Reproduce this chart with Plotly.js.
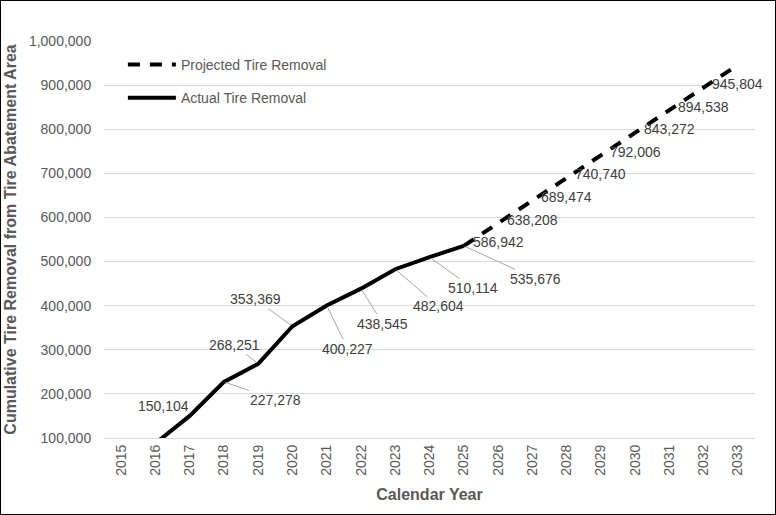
<!DOCTYPE html>
<html>
<head>
<meta charset="utf-8">
<script src="https://cdn.plot.ly/plotly-3.0.1.min.js"></script>
<style>
  body { margin: 0; background: #fff; }
  #chart { width: 776px; height: 515px; }
  #frame { position: absolute; left: 0; top: 0; width: 776px; height: 515px; box-sizing: border-box; border: 1px solid #000; pointer-events: none; }
</style>
</head>
<body>
<div id="chart"></div>
<div id="frame"></div>
<script>
const years = ['2015','2016','2017','2018','2019','2020','2021','2022','2023','2024','2025','2026','2027','2028','2029','2030','2031','2032','2033'];

const actualYears = ['2016','2017','2018','2019','2020','2021','2022','2023','2024','2025'];
const actualValues = [88000, 150104, 227278, 268251, 353369, 400227, 438545, 482604, 510114, 535676];

const projectedYears = ['2025','2026','2027','2028','2029','2030','2031','2032','2033'];
const projectedValues = [535676, 586942, 638208, 689474, 740740, 792006, 843272, 894538, 945804];

// label offsets (px) for the actual series, 2017..2025: [dx, dy, leader line]
const actualLabelOffsets = [
  [-26, -10, false], [52, 18, true], [-24, -19, true], [-37, -27, true],
  [21, 43, true], [22, 35, true], [43, 37, true], [43, 31, true], [72, 33, true]
];

const fmt = v => v.toLocaleString('en-US');
const labelFont = { family: 'Liberation Sans, Arial, sans-serif', size: 14, color: '#404040' };
// numeric-looking category names must be placed by index on a category axis
const pos = yr => years.indexOf(yr);

const annotations = [];
actualYears.forEach((yr, i) => {
  if (i === 0) return; // below the axis range
  const [ax, ay, lead] = actualLabelOffsets[i - 1];
  if (lead) {
    annotations.push({ x: pos(yr), y: actualValues[i], text: fmt(actualValues[i]), showarrow: true,
      arrowhead: 0, arrowwidth: 1, arrowcolor: '#a6a6a6', ax: ax, ay: ay, standoff: 2, font: labelFont });
  } else {
    annotations.push({ x: pos(yr), y: actualValues[i], text: fmt(actualValues[i]), showarrow: false,
      xshift: ax, yshift: -ay, font: labelFont });
  }
});
projectedYears.forEach((yr, i) => {
  if (i === 0) return;
  annotations.push({ x: pos(yr), y: projectedValues[i], text: fmt(projectedValues[i]), showarrow: false,
    yshift: -19, font: labelFont });
});

Plotly.newPlot('chart', [
  {
    x: projectedYears, y: projectedValues, name: 'Projected Tire Removal',
    type: 'scatter', mode: 'lines', legendgroup: 'a',
    line: { color: '#000', width: 4, dash: '12px,10px' }
  },
  {
    x: actualYears, y: actualValues, name: 'Actual Tire Removal',
    type: 'scatter', mode: 'lines', legendgroup: 'b',
    line: { color: '#000', width: 4 }
  }
], {
  width: 776, height: 515,
  margin: { l: 104, r: 21, t: 41, b: 77 },
  paper_bgcolor: '#fff', plot_bgcolor: '#fff',
  font: { family: 'Liberation Sans, Arial, sans-serif', color: '#595959', size: 14 },
  showlegend: true,
  legend: {
    x: 0.029, y: 0.98, xanchor: 'left', yanchor: 'top', itemwidth: 48,
    traceorder: 'grouped', tracegroupgap: 12, bgcolor: 'rgba(0,0,0,0)'
  },
  xaxis: {
    type: 'category', categoryorder: 'array', categoryarray: years,
    range: [-0.5, 18.5], tickangle: -90, showgrid: false,
    showline: true, linecolor: '#d9d9d9', linewidth: 1, ticks: '',
    title: { text: 'Calendar Year', font: { size: 16, weight: 'bold' }, standoff: 14 }
  },
  yaxis: {
    range: [100000, 1000000], dtick: 100000, tickformat: ',',
    showgrid: true, gridcolor: '#d9d9d9', gridwidth: 1, zeroline: false,
    ticks: 'outside', ticklen: 9, tickcolor: 'rgba(0,0,0,0)',
    title: { text: 'Cumulative Tire Removal from Tire Abatement Area', font: { size: 16, weight: 'bold' }, standoff: 8 }
  },
  annotations: annotations
}, { displayModeBar: false });
</script>
</body>
</html>
